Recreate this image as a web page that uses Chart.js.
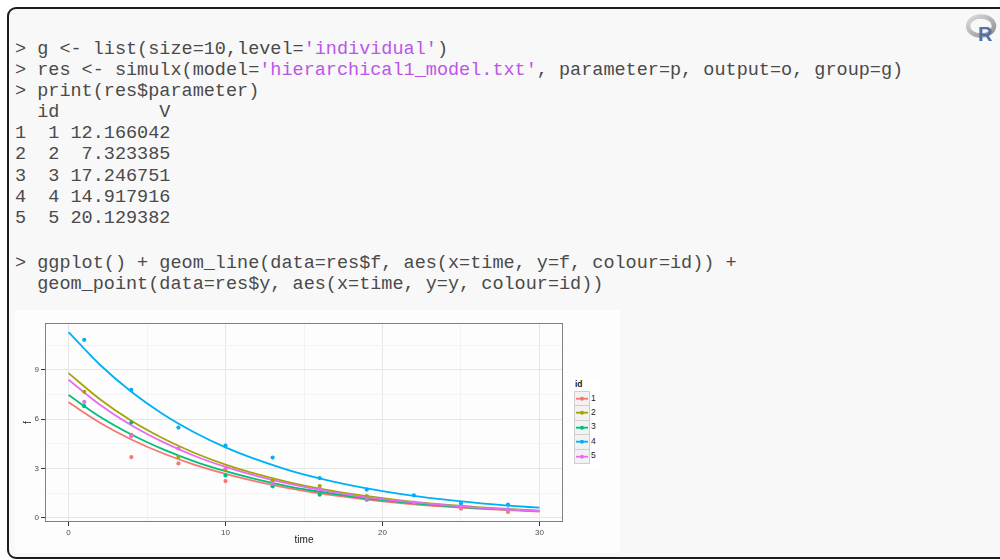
<!DOCTYPE html>
<html>
<head>
<meta charset="utf-8">
<script src="https://cdn.jsdelivr.net/npm/chart.js@4"></script>
<style>
  html, body { margin: 0; padding: 0; background: #fff; }
  body { width: 1000px; height: 560px; position: relative; overflow: hidden; }
  .console {
    position: absolute; left: 7px; top: 7px; width: 1020px; height: 548px;
    border: 2px solid #1c1c1c; border-radius: 9px; background: #f8f8f8;
  }
  pre {
    position: absolute; margin: 0; left: 15px;
    font-family: "Liberation Mono", "Courier New", monospace;
    font-size: 18.5px; line-height: 21.1px; color: #4a4a4a;
  }
  .s { color: #bb55e8; }
  #logo { position: absolute; left: 966px; top: 14px; }
  .plot { position: absolute; left: 15px; top: 310px; width: 605px; height: 243px; background: #fdfdfd; }
  #legend {
    position: absolute; left: 572px; top: 378px; width: 28px; height: 89px; background: #fff;
    font-family: "Liberation Sans", Arial, sans-serif; font-size: 8.5px; color: #1a1a1a;
  }
  #legend .lt { position: absolute; left: 3px; top: 1px; font-weight: bold; }
  #legend .key {
    position: absolute; left: 2px; width: 14px; height: 13.4px;
    border: 0.5px solid #cfcfcf; background: #f2f2f2;
  }
  #legend .lab { position: absolute; left: 19px; }
</style>
</head>
<body>
<div class="console"></div>
<svg id="logo" width="34" height="30" viewBox="0 0 34 30">
  <defs>
    <linearGradient id="ring" x1="0" y1="0" x2="1" y2="1">
      <stop offset="0" stop-color="#dcdcde"/>
      <stop offset="1" stop-color="#8e8e94"/>
    </linearGradient>
  </defs>
  <ellipse cx="15" cy="12" rx="13" ry="9.5" fill="none" stroke="url(#ring)" stroke-width="4.5"/>
  <text x="12" y="27" font-family="Liberation Sans, Arial" font-weight="bold" font-size="20" fill="#5b6f9e">R</text>
</svg>
<pre style="top:39px">&gt; g &lt;- list(size=10,level=<span class="s">'individual'</span>)
&gt; res &lt;- simulx(model=<span class="s">'hierarchical1_model.txt'</span>, parameter=p, output=o, group=g)
&gt; print(res$parameter)
  id         V
1  1 12.166042
2  2  7.323385
3  3 17.246751
4  4 14.917916
5  5 20.129382</pre>
<pre style="top:253px">&gt; ggplot() + geom_line(data=res$f, aes(x=time, y=f, colour=id)) +
  geom_point(data=res$y, aes(x=time, y=y, colour=id))</pre>
<div class="plot"><canvas id="plot" width="605" height="243"></canvas></div>
<div id="legend"></div>
<script>
// groups and colours (ggplot hue palette)
const ids = ['1', '2', '3', '4', '5'];
const colors = ['#F8766D', '#A3A500', '#00BF7D', '#00B0F6', '#E76BF3'];

// predicted curves f(time), every 2 time units
const curveTime = [0, 2, 4, 6, 8, 10, 12, 14, 16, 18, 20, 22, 24, 26, 28, 30];
const curve1 = [7.03, 5.79, 4.77, 3.93, 3.24, 2.67, 2.20, 1.81, 1.49, 1.23, 1.01, 0.83, 0.69, 0.57, 0.47, 0.38];
const curve2 = [8.80, 7.21, 5.90, 4.84, 3.96, 3.24, 2.66, 2.18, 1.78, 1.46, 1.20, 0.98, 0.80, 0.66, 0.54, 0.44];
const curve3 = [7.47, 6.15, 5.07, 4.18, 3.44, 2.84, 2.34, 1.92, 1.59, 1.31, 1.08, 0.89, 0.73, 0.60, 0.50, 0.41];
const curve4 = [11.30, 9.31, 7.67, 6.32, 5.21, 4.29, 3.54, 2.91, 2.40, 1.98, 1.63, 1.34, 1.11, 0.91, 0.75, 0.62];
const curve5 = [8.40, 6.88, 5.63, 4.62, 3.78, 3.10, 2.54, 2.08, 1.70, 1.39, 1.14, 0.94, 0.77, 0.63, 0.51, 0.42];

// observations y(time), null where no point is visible
const obsTime = [1, 4, 7, 10, 13, 16, 19, 22, 25, 28];
const obs1 = [null, 3.70, 3.31, 2.24, null, null, null, null, 0.56, 0.36];
const obs2 = [7.67, 5.05, 3.70, 2.95, 2.28, 1.94, 1.33, null, null, null];
const obs3 = [6.79, 5.80, null, 2.58, 1.92, 1.41, 1.11, null, null, null];
const obs4 = [10.83, 7.78, 5.49, 4.40, 3.67, 2.42, 1.72, 1.37, 0.87, 0.81];
const obs5 = [7.05, 4.97, 4.22, 3.05, 2.08, 1.78, 1.17, 0.93, 0.67, 0.52];

const xTicks = [0, 5, 10, 15, 20, 25, 30];
const yTicks = [0, 1.5, 3, 4.5, 6, 7.5, 9, 10.5];

const curves = [curve1, curve2, curve3, curve4, curve5];
const observations = [obs1, obs2, obs3, obs4, obs5];

const toXY = (xs, ys) => xs.map((x, i) => ({x: x, y: ys[i]})).filter(p => p.y !== null);

const datasets = [];
ids.forEach((id, i) => {
    datasets.push({
        label: id,
        data: toXY(curveTime, curves[i]),
        showLine: true,
        borderColor: colors[i],
        borderWidth: 1.8,
        pointRadius: 0,
        cubicInterpolationMode: 'monotone',
        order: 10 - i,
    });
    datasets.push({
        label: id + ' obs',
        data: toXY(obsTime, observations[i]),
        showLine: false,
        backgroundColor: colors[i],
        borderWidth: 0,
        pointRadius: 2.1,
        order: 5 - i,
    });
});

const panelBorder = {
    id: 'panelBorder',
    afterDraw(chart) {
        const {ctx, chartArea: a} = chart;
        ctx.save();
        ctx.strokeStyle = '#808080';
        ctx.lineWidth = 1;
        ctx.strokeRect(a.left + 0.5, a.top + 0.5, a.right - a.left - 1, a.bottom - a.top - 1);
        ctx.restore();
    }
};

const tickFont = {family: 'Liberation Sans', size: 8};
const isMajor = (v, step) => Math.abs(v / step - Math.round(v / step)) < 1e-6;

new Chart(document.getElementById('plot').getContext('2d'), {
    type: 'scatter',
    data: {datasets: datasets},
    options: {
        responsive: false,
        animation: false,
        events: [],
        layout: {padding: {top: 13, right: 57, left: 0, bottom: 0}},
        plugins: {legend: {display: false}, tooltip: {enabled: false}},
        scales: {
            x: {
                type: 'linear', min: -1.5, max: 31.5,
                afterBuildTicks: s => { s.ticks = xTicks.map(v => ({value: v})); },
                afterFit: s => { s.height = 31; },
                border: {display: false},
                grid: {
                    color: c => isMajor(c.tick.value, 10) ? '#e6e6e6' : '#f4f4f4',
                    tickColor: c => isMajor(c.tick.value, 10) ? '#333' : 'rgba(0,0,0,0)',
                    tickLength: 4,
                    lineWidth: 1,
                },
                ticks: {
                    font: tickFont, color: '#4d4d4d', padding: 2, maxRotation: 0, autoSkip: false,
                    callback: v => isMajor(v, 10) ? String(v) : '',
                },
                title: {display: true, text: 'time', color: '#1a1a1a',
                        font: {family: 'Liberation Sans', size: 10}, padding: {top: 0, bottom: 7}},
            },
            y: {
                type: 'linear', min: -0.25, max: 11.85,
                afterBuildTicks: s => { s.ticks = yTicks.map(v => ({value: v})); },
                afterFit: s => { s.width = 30; },
                border: {display: false},
                grid: {
                    color: c => isMajor(c.tick.value, 3) ? '#e6e6e6' : '#f4f4f4',
                    tickColor: c => isMajor(c.tick.value, 3) ? '#333' : 'rgba(0,0,0,0)',
                    tickLength: 4,
                    lineWidth: 1,
                },
                ticks: {
                    font: tickFont, color: '#4d4d4d', padding: 2, autoSkip: false,
                    callback: v => isMajor(v, 3) ? String(v) : '',
                },
                title: {display: true, text: 'f', color: '#1a1a1a',
                        font: {family: 'Liberation Sans', size: 10}, padding: {top: 7, bottom: 0}},
            },
        },
    },
    plugins: [panelBorder],
});

// legend, ggplot style: key boxes with line and point
const legend = document.getElementById('legend');
legend.innerHTML = '<div class="lt">id</div>';
ids.forEach((id, i) => {
    const top = 13 + i * 14.4;
    legend.insertAdjacentHTML('beforeend',
        '<div class="key" style="top:' + top + 'px">' +
        '<svg width="14" height="13.4" style="position:absolute;left:0;top:0">' +
        '<line x1="1" y1="6.7" x2="13" y2="6.7" stroke="' + colors[i] + '" stroke-width="1.8"/>' +
        '<circle cx="7" cy="6.7" r="2" fill="' + colors[i] + '"/></svg></div>' +
        '<div class="lab" style="top:' + (top + 1.5) + 'px">' + id + '</div>');
});
</script>
</body>
</html>
